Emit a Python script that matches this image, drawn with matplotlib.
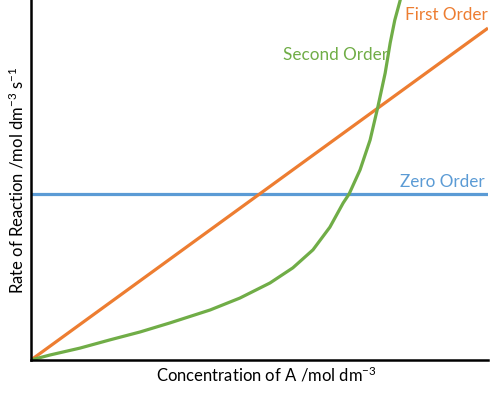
import numpy as np
import matplotlib
matplotlib.use('Agg')
import matplotlib.pyplot as plt

plt.rcParams['font.family'] = ['Lato', 'DejaVu Sans']
plt.rcParams['mathtext.fontset'] = 'custom'
plt.rcParams['mathtext.rm'] = 'Lato'
plt.rcParams['mathtext.it'] = 'Lato:italic'
plt.rcParams['mathtext.sf'] = 'Lato'

# concentration (0-1) and rate (0-1)
conc = [0.0, 1.0]
zero_order = [0.461, 0.461]
first_order = [0.0, 0.922]
second_conc = [0.0, 0.042, 0.107, 0.173, 0.239, 0.304, 0.392, 0.457, 0.523,
               0.573, 0.617, 0.654, 0.683, 0.696, 0.720, 0.742, 0.759, 0.775,
               0.786, 0.796, 0.808]
second_rate = [0.0, 0.014, 0.033, 0.056, 0.078, 0.103, 0.139, 0.172, 0.214,
               0.256, 0.306, 0.369, 0.436, 0.461, 0.528, 0.611, 0.703, 0.797,
               0.881, 0.944, 1.0]

orange = '#ED7D31'
green = '#70AD47'
blue = '#5B9BD5'

fig = plt.figure(figsize=(5, 3.94), dpi=100)
ax = fig.add_axes([0.062, 0.0863, 0.914, 0.9137])

ax.plot(conc, zero_order, color=blue, lw=2.3, solid_capstyle='butt')
ax.plot(conc, first_order, color=orange, lw=2.3, solid_capstyle='butt')
ax.plot(second_conc, second_rate, color=green, lw=2.3,
        solid_capstyle='round', solid_joinstyle='round')

ax.text(1.0, 0.958, 'First Order', color=orange, fontsize=12.3, ha='right', va='center')
ax.text(0.551, 0.847, 'Second Order', color=green, fontsize=12.3, ha='left', va='center')
ax.text(0.993, 0.494, 'Zero Order', color=blue, fontsize=12.3, ha='right', va='center')

ax.set_xlim(0, 1)
ax.set_ylim(0, 1)
ax.set_xticks([])
ax.set_yticks([])
for s in ['top', 'right']:
    ax.spines[s].set_visible(False)
for s in ['left', 'bottom']:
    ax.spines[s].set_linewidth(1.8)
    ax.spines[s].set_color('black')

ax.set_xlabel('Concentration of A /mol dm$^{-3}$', fontsize=12, labelpad=3)
ax.xaxis.set_label_coords(0.516, -0.015, transform=ax.transAxes)
ax.xaxis.label.set_va('top')
ax.set_ylabel('Rate of Reaction /mol dm$^{-3}$ s$^{-1}$', fontsize=12, labelpad=3)

fig.savefig('out.png', dpi=100)
